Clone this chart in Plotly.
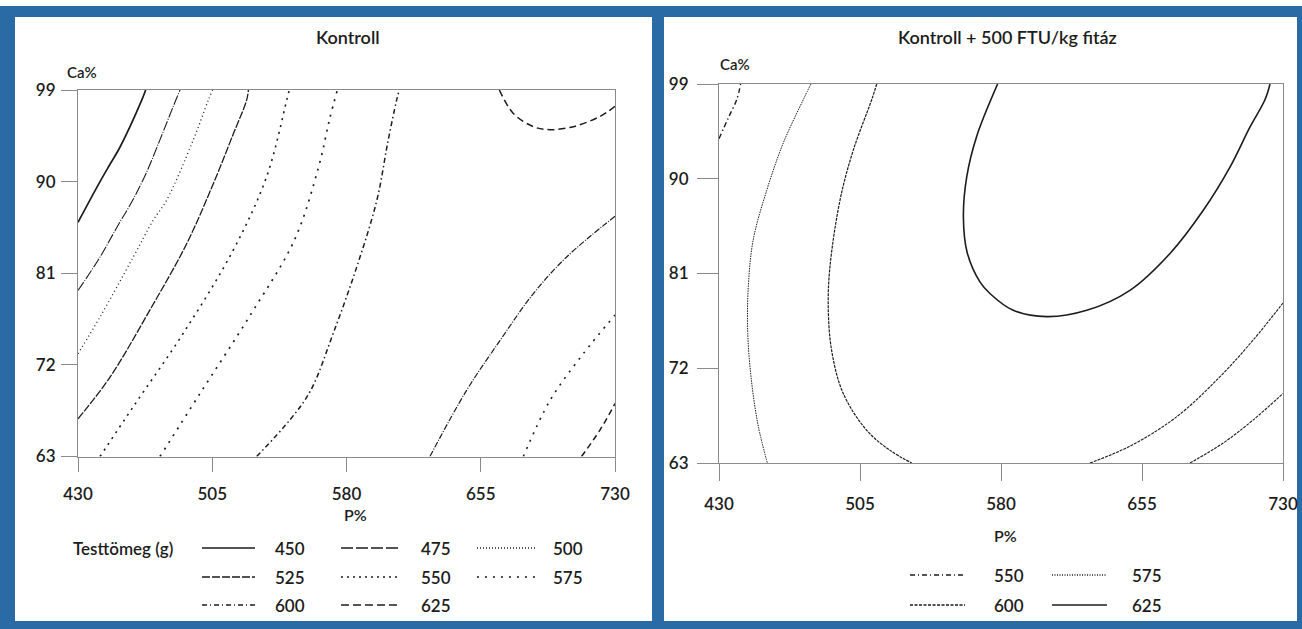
import plotly.graph_objects as go

W, H = 1302, 629

# ---------------- data ----------------
p_ticks = [430, 505, 580, 655, 730]
ca_ticks = [63, 72, 81, 90, 99]

# Kontroll panel (P%, Ca%) contour traces
k450_p = [430, 442.3, 448.2, 453.5, 465.6, 467.8]
k450_ca = [86.0, 90.0, 91.8, 93.4, 98.0, 99]
k475_p = [430, 442, 452, 460, 468, 476, 483, 487]
k475_ca = [79.3, 82.5, 85.6, 88.0, 90.8, 94.2, 97.3, 99]
k500_p = [430, 442.3, 460.9, 472, 479.6, 494.4, 502.8, 505.2]
k500_ca = [73.1, 76.7, 82.6, 86.2, 88.2, 94.1, 98.0, 99]
k525_p = [430, 447.9, 470.2, 490.7, 505.6, 516.8, 524.2, 525.2]
k525_ca = [66.7, 70.8, 77.4, 83.9, 89.8, 94.7, 98.0, 99]
k550_p = [442.3, 460.9, 488.8, 516.8, 535.4, 546.6, 548]
k550_ca = [63, 67.9, 75.1, 83.3, 90.5, 98.0, 99]
k575_p = [475.8, 498.2, 527, 551, 564.5, 570.5, 574.9]
k575_ca = [63, 69.2, 77.1, 84.3, 91.5, 96.1, 99]
k600_p = [529.8, 548.4, 560, 572.6, 585.7, 597, 603, 608, 609.5]
k600_ca = [63, 66.6, 69.5, 75.1, 81.6, 88.2, 93.8, 98, 99]
k625_p = [665.4, 673.2, 684.4, 693.7, 706.7, 721.6, 730]
k625_ca = [99, 96.7, 95.4, 95.1, 95.4, 96.4, 97.4]
k600b_p = [626.6, 647.1, 665.8, 684.4, 703, 730]
k600b_ca = [63, 69.5, 74.4, 79.0, 82.6, 86.6]
k575b_p = [678.8, 693.7, 712.3, 730]
k575b_ca = [63, 68.5, 73.1, 76.9]
k550b_p = [711.3, 721.6, 730]
k550b_ca = [63, 65.6, 68.2]

# Kontroll + 500 FTU/kg fitáz panel
f550_p = [430, 435, 439.4, 441.5]
f550_ca = [93.8, 95.8, 97.5, 99]
f575_p = [478.9, 474.8, 464.2, 455.4, 448.2, 445.6, 445.3, 447.4, 450.9, 455.7]
f575_ca = [99, 97.5, 93.4, 88.9, 84.2, 79.8, 75.3, 70.6, 66.5, 63.0]
f600_p = [513.9, 511.2, 501.4, 494.4, 489, 488.1, 489.9, 496.1, 508.6, 521, 532.5]
f600_ca = [99, 97.5, 92.7, 88, 81.6, 77.9, 73.7, 69.6, 66.1, 64.2, 63]
f625_p = [578.2, 567, 561.8, 560, 562, 568.8, 574.1, 586.5, 604.3, 625.6,
          648.6, 669.9, 687.6, 701.8, 712.4, 720.4, 723.1]
f625_ca = [99, 94, 90.2, 86.4, 83.0, 80.2, 79.1, 77.5, 76.9, 77.5,
           79.4, 82.9, 87.0, 91.1, 94.9, 97.5, 99]
f600b_p = [627.3, 648.6, 673.5, 696.5, 714.2, 730]
f600b_ca = [63, 64.6, 67.4, 71.2, 74.7, 78.2]
f575b_p = [680.5, 698.2, 714.2, 730]
f575b_ca = [63, 64.9, 67.1, 69.6]

left_levels = [450, 475, 500, 525, 550, 575, 600, 625]
right_levels = [550, 575, 600, 625]

# ---------------- styles ----------------
BLUE = "#2b6ba5"
INK = "#1c1c1c"
AX = "#8a8a8a"
FONT = "Lato"

left_dash = {450: "solid", 475: "12px,3px", 500: "1px,2px", 525: "8px,2px",
             550: "2px,4px", 575: "2px,6px", 600: "5px,3px,1px,3px", 625: "8px,4px"}
right_dash = {550: "5px,3px,1px,3px", 575: "1px,1.5px", 600: "3px,1.5px", 625: "solid"}

left_curves = [
    (k450_p, k450_ca, 450, "solid", 1.7),
    (k475_p, k475_ca, 475, "10px,1.5px,1px,1.5px", 1.1),
    (k500_p, k500_ca, 500, "1px,3px", 1.3),
    (k525_p, k525_ca, 525, "8px,1.5px", 1.3),
    (k550_p, k550_ca, 550, "2px,5px", 1.6),
    (k575_p, k575_ca, 575, "2px,6px", 1.7),
    (k600_p, k600_ca, 600, "5px,3px,1.5px,3px", 1.5),
    (k625_p, k625_ca, 625, "7px,4px", 1.5),
    (k600b_p, k600b_ca, 600, "6px,1.5px,1px,1.5px", 1.2),
    (k575b_p, k575b_ca, 575, "2px,6px", 1.6),
    (k550b_p, k550b_ca, 550, "6px,4px", 1.5),
]
right_curves = [
    (f550_p, f550_ca, 550, "5px,3px,1.5px,3px", 1.4),
    (f575_p, f575_ca, 575, "1.5px,1px", 1.0),
    (f600_p, f600_ca, 600, "3px,1px", 1.2),
    (f625_p, f625_ca, 625, "solid", 1.6),
    (f600b_p, f600b_ca, 600, "3px,1px", 1.1),
    (f575b_p, f575b_ca, 575, "3px,1px", 1.1),
]


def xp(px):
    return px / W


def yp(py):
    return 1 - py / H


fig = go.Figure()

for p, ca, lev, dash, wdt in left_curves:
    fig.add_trace(go.Scatter(x=p, y=ca, mode="lines", xaxis="x", yaxis="y",
                             line=dict(color=INK, width=wdt, dash=dash, shape="spline", smoothing=1.0),
                             name=str(lev), showlegend=False, hoverinfo="skip"))
for p, ca, lev, dash, wdt in right_curves:
    fig.add_trace(go.Scatter(x=p, y=ca, mode="lines", xaxis="x2", yaxis="y2",
                             line=dict(color=INK, width=wdt, dash=dash, shape="spline", smoothing=1.0),
                             name=str(lev), showlegend=False, hoverinfo="skip"))

tickfont = dict(family=FONT, size=17, color=INK, weight=600)
common_x = dict(range=[430, 730], tickvals=p_ticks, ticktext=[str(v) for v in p_ticks],
                ticks="outside", tickcolor=AX, tickwidth=1, showline=True, linecolor=AX,
                linewidth=1, mirror=True, showgrid=False, zeroline=False, tickfont=tickfont,
                fixedrange=True, automargin=False)
common_y = dict(range=[63, 99], tickvals=ca_ticks, ticktext=[str(v) for v in ca_ticks],
                ticks="outside", tickcolor=AX, tickwidth=1, showline=True, linecolor=AX,
                linewidth=1, mirror=True, showgrid=False, zeroline=False, tickfont=tickfont,
                fixedrange=True, automargin=False)

fig.update_layout(
    template="none",
    width=W, height=H,
    autosize=False,
    margin=dict(l=0, r=0, t=0, b=0, pad=0),
    paper_bgcolor=BLUE,
    plot_bgcolor="white",
    showlegend=False,
    xaxis=dict(common_x, domain=[xp(78), xp(615)], anchor="y", ticklen=14, ticklabelstandoff=8),
    yaxis=dict(common_y, domain=[yp(456.5), yp(90)], anchor="x", ticklen=16, ticklabelstandoff=2),
    xaxis2=dict(common_x, domain=[xp(719), xp(1283)], anchor="y2", ticklen=17, ticklabelstandoff=9),
    yaxis2=dict(common_y, domain=[yp(463), yp(84)], anchor="x2", ticklen=21, ticklabelstandoff=5),
)

shapes = []
# white panels
shapes.append(dict(type="rect", xref="paper", yref="paper", x0=xp(0), x1=xp(W), y0=yp(6), y1=yp(0),
                   fillcolor="white", line=dict(width=0), layer="below"))
shapes.append(dict(type="rect", xref="paper", yref="paper", x0=xp(15), x1=xp(652), y0=yp(621), y1=yp(17),
                   fillcolor="white", line=dict(width=0), layer="below"))
shapes.append(dict(type="rect", xref="paper", yref="paper", x0=xp(664), x1=xp(1297), y0=yp(621), y1=yp(17),
                   fillcolor="white", line=dict(width=0), layer="below"))

annotations = []


def text(x, y, s, size=17, anchor="center"):
    annotations.append(dict(xref="paper", yref="paper", x=xp(x), y=yp(y), text=s, showarrow=False,
                            xanchor=anchor, yanchor="middle",
                            font=dict(family=FONT, size=size, color=INK, weight=600)))


# titles & axis labels
text(348, 37, "Kontroll", size=18)
text(1007, 37, "Kontroll + 500 FTU/kg fitáz", size=18)
text(82, 72, "Ca%", size=15)
text(735, 64, "Ca%", size=15)
text(355, 514, "P%", size=16)
text(1005, 535, "P%", size=16)

# legend (left)
text(123, 548, "Testtömeg (g)")
left_cols = [(202, 255, 290), (341, 398, 436), (477, 535, 568)]
left_rows = [548, 577, 605]
for i, lev in enumerate(left_levels):
    x0, x1, tx = left_cols[i % 3]
    y = left_rows[i // 3]
    shapes.append(dict(type="line", xref="paper", yref="paper", x0=xp(x0), x1=xp(x1), y0=yp(y), y1=yp(y),
                       line=dict(color=INK, width=1.3, dash=left_dash[lev])))
    text(tx, y, str(lev))

# legend (right)
right_cols = [(910, 965, 1009), (1052, 1107, 1147)]
right_rows = [575, 605]
for i, lev in enumerate(right_levels):
    x0, x1, tx = right_cols[i % 2]
    y = right_rows[i // 2]
    shapes.append(dict(type="line", xref="paper", yref="paper", x0=xp(x0), x1=xp(x1), y0=yp(y), y1=yp(y),
                       line=dict(color=INK, width=1.3, dash=right_dash[lev])))
    text(tx, y, str(lev))

fig.update_layout(shapes=shapes, annotations=annotations)
fig.write_html(
    "out.html",
    config={"displayModeBar": False},
    post_script="document.body.style.margin='0';document.body.style.padding='0';"
                "document.body.style.overflow='hidden';",
)
